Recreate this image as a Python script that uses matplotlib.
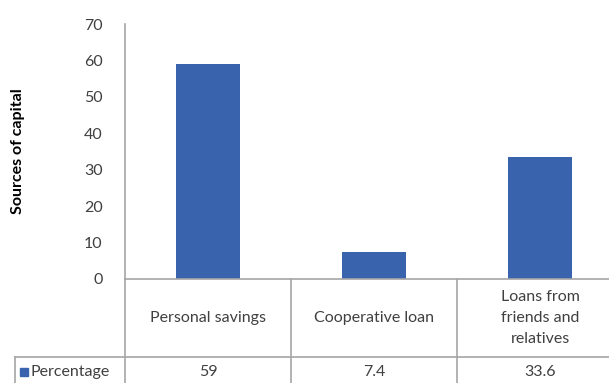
import numpy as np
import matplotlib.pyplot as plt
import matplotlib.transforms as mtransforms
from matplotlib.lines import Line2D
from matplotlib.patches import Rectangle

categories = ['Personal savings', 'Cooperative loan', 'Loans from\nfriends and\nrelatives']
series_name = 'Percentage'
values = [59, 7.4, 33.6]
value_labels = ['59', '7.4', '33.6']
yticks = [0, 10, 20, 30, 40, 50, 60, 70]

plt.rcParams['font.family'] = ['Lato', 'DejaVu Sans']
bar_color = '#3A63AD'
line_color = '#A6A6A6'
text_color = '#404040'

W, H = 609, 383
fig = plt.figure(figsize=(W / 100, H / 100), dpi=100)
# axes runs past the right edge of the picture, like the source
ax = fig.add_axes([125 / W, 1 - 279 / H, 3 * 166 / W, (279 - 24) / H])

x = np.arange(len(categories))
ax.bar(x, values, width=0.39, color=bar_color, zorder=2)
ax.set_xlim(-0.5, len(categories) - 0.5)
ax.set_ylim(0, 70)
ax.set_yticks(yticks)
ax.tick_params(axis='y', length=0, pad=16, labelsize=11.5, labelcolor=text_color)
ax.set_xticks([])
for s in ['top', 'right']:
    ax.spines[s].set_visible(False)
for s in ['left', 'bottom']:
    ax.spines[s].set_color(line_color)
    ax.spines[s].set_linewidth(1.2)

fig.text(18 / W, 1 - 151 / H, 'Sources of capital', rotation=90, ha='center',
         va='center', fontsize=11.5, fontweight='bold', color='black')

# data table under the axes (x in data units, y in pixels from top)
trans = mtransforms.blended_transform_factory(ax.transData, fig.transFigure)
fy = lambda py: 1 - py / H
row_line = 357

for i, c in enumerate(categories):
    ax.text(i, fy(318), c, transform=trans, ha='center', va='center', fontsize=11.5,
            color=text_color, linespacing=1.6, clip_on=False)
    ax.text(i, fy(372), value_labels[i], transform=trans, ha='center', va='center',
            fontsize=11.5, color=text_color, clip_on=False)

lines = []
for b in np.arange(-0.5, len(categories) + 0.5, 1.0):
    lines.append(Line2D([b, b], [fy(279), fy(H + 5)], transform=trans))
lines.append(Line2D([15 / W, 1.0], [fy(row_line), fy(row_line)], transform=fig.transFigure))
lines.append(Line2D([15 / W, 15 / W], [fy(row_line), fy(H + 5)], transform=fig.transFigure))
for ln in lines:
    ln.set_color(line_color)
    ln.set_linewidth(1.2)
    ln.set_clip_on(False)
    fig.add_artist(ln)

fig.add_artist(Rectangle((20 / W, fy(376)), 8 / W, 8 / H, transform=fig.transFigure,
                         color=bar_color))
fig.text(31 / W, fy(372), series_name, ha='left', va='center', fontsize=11.5,
         color=text_color)

fig.savefig('out.png', dpi=100)
